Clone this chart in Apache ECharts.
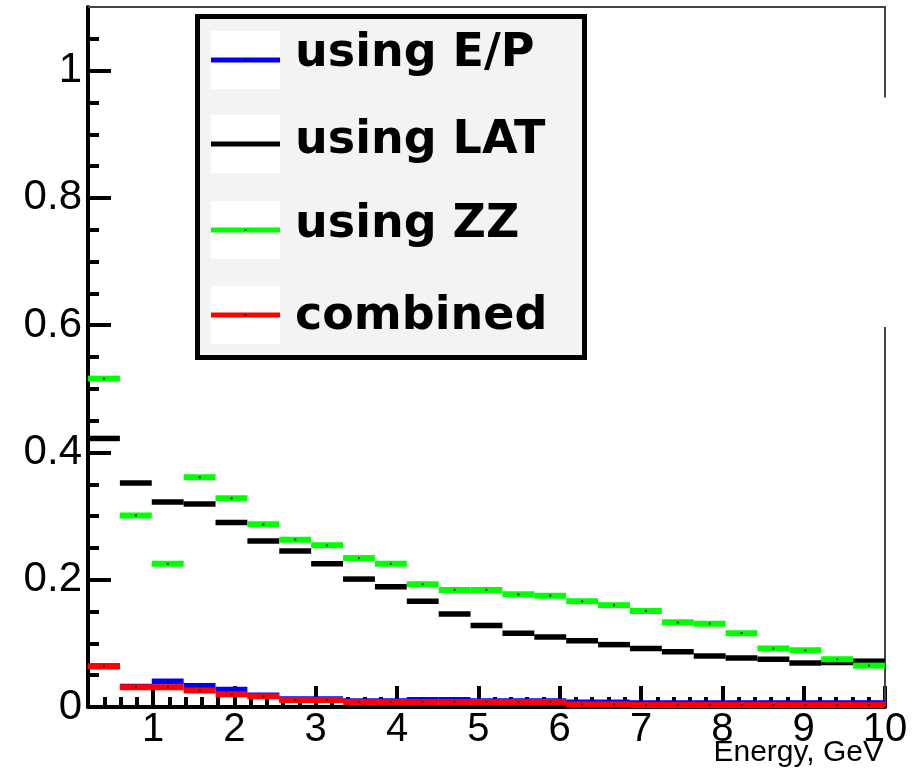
<!DOCTYPE html>
<html>
<head>
<meta charset="utf-8">
<script src="https://cdn.jsdelivr.net/npm/echarts@6/dist/echarts.min.js"></script>
<style>
  html, body { margin: 0; padding: 0; background: #ffffff; }
  #chart { width: 921px; height: 769px; }
</style>
</head>
<body>
<div id="chart"></div>
<script>
// Histogram binning: 25 equal bins between 0.2 and 10 GeV
const X_MIN = 0.2;
const X_MAX = 10;
const N_BINS = 25;
const Y_MIN = 0;
const Y_MAX = 1.1;

const seriesNames = ['using E/P', 'using LAT', 'using ZZ', 'combined'];
const seriesColors = ['#0000ff', '#000000', '#00ff00', '#ff0000'];

// Bin contents, one value per energy bin
const usingEP = [0.064, 0.032, 0.040, 0.033, 0.027, 0.018, 0.012, 0.012, 0.009, 0.009,
                 0.011, 0.011, 0.009, 0.009, 0.009, 0.007, 0.007, 0.006, 0.006, 0.006,
                 0.006, 0.006, 0.006, 0.006, 0.006];
const usingLAT = [0.422, 0.352, 0.322, 0.319, 0.290, 0.261, 0.245, 0.225, 0.201, 0.189,
                  0.166, 0.146, 0.128, 0.116, 0.110, 0.104, 0.098, 0.092, 0.087, 0.080,
                  0.077, 0.075, 0.069, 0.070, 0.072];
const usingZZ = [0.516, 0.301, 0.225, 0.361, 0.328, 0.287, 0.263, 0.254, 0.234, 0.225,
                 0.193, 0.184, 0.184, 0.177, 0.175, 0.166, 0.160, 0.151, 0.133, 0.131,
                 0.116, 0.092, 0.089, 0.075, 0.065];
const combined = [0.064, 0.031, 0.031, 0.026, 0.020, 0.017, 0.011, 0.011, 0.008, 0.008,
                  0.008, 0.008, 0.008, 0.008, 0.008, 0.004, 0.004, 0.003, 0.003, 0.003,
                  0.003, 0.003, 0.003, 0.003, 0.003];

// Axis tick positions and labels
const xTickLabels = [1, 2, 3, 4, 5, 6, 7, 8, 9, 10];
const xMinorTicks = [0.4, 0.6, 0.8, 1.2, 1.4, 1.6, 1.8, 2.2, 2.4, 2.6, 2.8, 3.2, 3.4, 3.6, 3.8,
                     4.2, 4.4, 4.6, 4.8, 5.2, 5.4, 5.6, 5.8, 6.2, 6.4, 6.6, 6.8, 7.2, 7.4, 7.6, 7.8,
                     8.2, 8.4, 8.6, 8.8, 9.2, 9.4, 9.6, 9.8];
const yTickLabels = [0, 0.2, 0.4, 0.6, 0.8, 1];
const yMinorTicks = [0.05, 0.1, 0.15, 0.25, 0.3, 0.35, 0.45, 0.5, 0.55, 0.65, 0.7, 0.75,
                     0.85, 0.9, 0.95, 1.05];
const xAxisTitle = 'Energy, GeV';

// Plot frame
const GRID = { left: 88, right: 36, top: 7, bottom: 62 };
const W = 921, H = 769;
const plotRight = W - GRID.right;
const plotBottom = H - GRID.bottom;

function binned(values) {
  const width = (X_MAX - X_MIN) / N_BINS;
  return values.map((v, i) => [X_MIN + i * width, X_MIN + (i + 1) * width, v]);
}

function histRenderer(color, thickness) {
  return function (params, api) {
    const lo = api.value(0), hi = api.value(1), v = api.value(2);
    const p0 = api.coord([lo, v]);
    const p1 = api.coord([hi, v]);
    const cx = (p0[0] + p1[0]) / 2;
    return {
      type: 'group',
      children: [
        { type: 'rect',
          shape: { x: p0[0], y: p0[1] - thickness / 2, width: p1[0] - p0[0], height: thickness },
          style: { fill: color } },
        { type: 'rect',
          shape: { x: cx - 1, y: p0[1] - 1, width: 2, height: 2 },
          style: { fill: '#000000' } }
      ]
    };
  };
}

const seriesValues = [usingEP, usingLAT, usingZZ, combined];
const series = seriesValues.map((vals, k) => ({
  type: 'custom',
  name: seriesNames[k],
  xAxisIndex: 0,
  yAxisIndex: 0,
  z: 3 + k,
  renderItem: histRenderer(seriesColors[k], k === 1 ? 5.5 : 6),
  encode: { x: [0, 1], y: 2 },
  data: binned(vals)
}));

// Legend box drawn on the canvas
const LEG = { x: 195, y: 14, w: 392, h: 346, border: 5 };
const legendRowsY = [60, 144, 230, 315];
const legendBaselines = [70, 157, 241, 333];
const legendChildren = [
  { type: 'rect',
    shape: { x: LEG.x + LEG.border / 2, y: LEG.y + LEG.border / 2,
             width: LEG.w - LEG.border, height: LEG.h - LEG.border },
    style: { fill: '#f3f3f3', stroke: '#000000', lineWidth: LEG.border } }
];
seriesNames.forEach((name, k) => {
  const cy = legendRowsY[k];
  legendChildren.push(
    { type: 'rect', shape: { x: 211, y: cy - 29, width: 69, height: 58 }, style: { fill: '#ffffff' } },
    { type: 'rect', shape: { x: 211, y: cy - 2.5, width: 69, height: 5 }, style: { fill: seriesColors[k] } },
    { type: 'rect', shape: { x: 244.5, y: cy - 1, width: 2, height: 2 }, style: { fill: '#000000' } },
    { type: 'text', x: 295, y: legendBaselines[k] - 16,
      style: { text: name, fill: '#000000', font: 'bold 46px "DejaVu Sans"',
               textAlign: 'left', textVerticalAlign: 'middle' } }
  );
});

const option = {
  backgroundColor: '#ffffff',
  animation: false,
  grid: { left: GRID.left, right: GRID.right, top: GRID.top, bottom: GRID.bottom,
          containLabel: false, outerBoundsMode: 'none' },
  xAxis: [
    {
      type: 'value', min: X_MIN, max: X_MAX, position: 'bottom',
      axisLine: { show: true, lineStyle: { color: '#000000', width: 4 } },
      axisTick: { show: true, inside: true, length: 21, customValues: xTickLabels,
                  lineStyle: { color: '#000000', width: 4 } },
      axisLabel: { show: true, customValues: xTickLabels, margin: 3,
                   fontFamily: 'Liberation Sans', fontSize: 40, color: '#000000' },
      splitLine: { show: false }
    },
    {
      type: 'value', min: X_MIN, max: X_MAX, position: 'bottom',
      axisLine: { show: false },
      axisTick: { show: true, inside: true, length: 10, customValues: xMinorTicks,
                  lineStyle: { color: '#000000', width: 4 } },
      axisLabel: { show: false },
      splitLine: { show: false }
    }
  ],
  yAxis: [
    {
      type: 'value', min: Y_MIN, max: Y_MAX, position: 'left',
      axisLine: { show: true, lineStyle: { color: '#000000', width: 4 } },
      axisTick: { show: true, inside: true, length: 23, customValues: yTickLabels,
                  lineStyle: { color: '#000000', width: 4 } },
      axisLabel: { show: true, customValues: yTickLabels, margin: 6,
                   fontFamily: 'Liberation Sans', fontSize: 42, color: '#000000' },
      splitLine: { show: false }
    },
    {
      type: 'value', min: Y_MIN, max: Y_MAX, position: 'left',
      axisLine: { show: false },
      axisTick: { show: true, inside: true, length: 11, customValues: yMinorTicks,
                  lineStyle: { color: '#000000', width: 4 } },
      axisLabel: { show: false },
      splitLine: { show: false }
    }
  ],
  graphic: [
    { type: 'polyline', z: 1,
      shape: { points: [[GRID.left, GRID.top], [plotRight, GRID.top], [plotRight, 97.5]] },
      style: { stroke: '#444444', lineWidth: 2, fill: null } },
    { type: 'line', z: 1,
      shape: { x1: plotRight, y1: 327, x2: plotRight, y2: plotBottom },
      style: { stroke: '#444444', lineWidth: 2 } },
    // x-axis title, right-aligned under the axis end
    { type: 'text', z: 10, x: plotRight - 2, y: 768,
      style: { text: xAxisTitle, fill: '#000000', font: '30px "Liberation Sans"',
               textAlign: 'right', textVerticalAlign: 'bottom' } },
    { type: 'group', z: 20, children: legendChildren }
  ],
  series: series
};

const chart = echarts.init(document.getElementById('chart'), null, { renderer: 'canvas' });
chart.setOption(option);
</script>
</body>
</html>
